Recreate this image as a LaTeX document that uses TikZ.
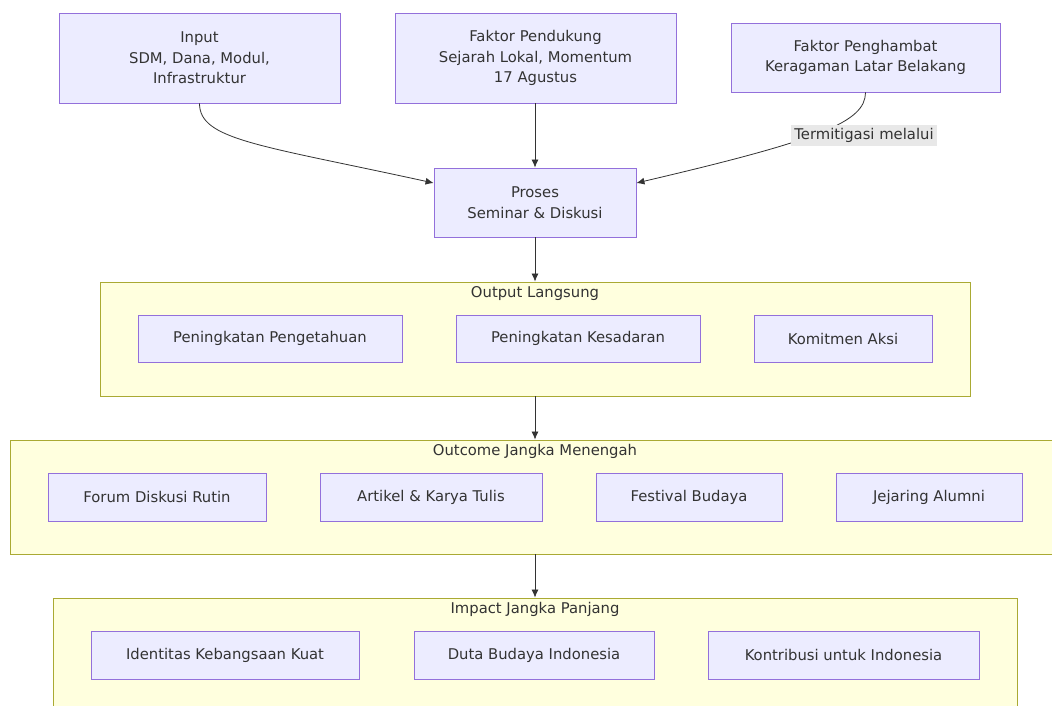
\documentclass[tikz,border=0pt]{standalone}
\usepackage{fontspec}
\setmainfont{DejaVu Sans}
\usepackage{tikz}
\usetikzlibrary{arrows.meta}

\definecolor{boxfill}{RGB}{236,236,255}
\definecolor{boxline}{RGB}{147,112,219}
\definecolor{grpfill}{RGB}{255,255,222}
\definecolor{grpline}{RGB}{170,170,51}
\definecolor{edgecol}{RGB}{51,51,51}
\definecolor{lblfill}{RGB}{232,232,232}

\begin{document}
\begin{tikzpicture}[x=1pt,y=-1pt,
  font=\fontsize{14.8}{20.5}\selectfont,
  box/.style={draw=boxline,fill=boxfill,line width=0.9pt,text=edgecol,align=center,inner sep=0pt},
  grp/.style={draw=grpline,fill=grpfill,line width=0.9pt,inner sep=0pt},
  grptitle/.style={text=edgecol,inner sep=0pt},
  edge/.style={draw=edgecol,line width=0.8pt,-{Latex[length=8pt,width=7pt]}},
  lbl/.style={fill=lblfill,text=edgecol,inner xsep=3pt,inner ysep=3pt}]
\useasboundingbox[fill=white] (0,0) rectangle (1052,706);

% top row
\node[box,minimum width=281,minimum height=90] (input) at (199.5,58) {Input\\SDM, Dana, Modul,\\Infrastruktur};
\node[box,minimum width=281,minimum height=90] (dukung) at (535.5,58) {Faktor Pendukung\\Sejarah Lokal, Momentum\\17 Agustus};
\node[box,minimum width=269,minimum height=69] (hambat) at (865.5,57.5) {Faktor Penghambat\\Keragaman Latar Belakang};
\node[box,minimum width=202,minimum height=69] (proses) at (535,202.5) {Proses\\Seminar \& Diskusi};

% groups
\node[grp,minimum width=870,minimum height=114] (output) at (535,339) {};
\node[grptitle] (outputT) at (535,293.5) {Output Langsung};
\node[box,minimum width=264,minimum height=47] (tahu) at (270,338.5) {Peningkatan Pengetahuan};
\node[box,minimum width=244,minimum height=47] (sadar) at (578,338.5) {Peningkatan Kesadaran};
\node[box,minimum width=178,minimum height=47] (aksi) at (843,338.5) {Komitmen Aksi};

\node[grp,minimum width=1042,minimum height=114] (outcome) at (531,497) {};
\node[grptitle] (outcomeT) at (535,451) {Outcome Jangka Menengah};
\node[box,minimum width=218,minimum height=48] (forum) at (157,497) {Forum Diskusi Rutin};
\node[box,minimum width=222,minimum height=48] (artikel) at (431,497) {Artikel \& Karya Tulis};
\node[box,minimum width=186,minimum height=48] (festival) at (689,497) {Festival Budaya};
\node[box,minimum width=186,minimum height=48] (alumni) at (929,497) {Jejaring Alumni};

\node[grp,minimum width=964,minimum height=114] (impact) at (535,655) {};
\node[grptitle] (impactT) at (535,609) {Impact Jangka Panjang};
\node[box,minimum width=268,minimum height=48] (identitas) at (225,655) {Identitas Kebangsaan Kuat};
\node[box,minimum width=240,minimum height=48] (duta) at (534,655) {Duta Budaya Indonesia};
\node[box,minimum width=271,minimum height=48] (kontribusi) at (843.5,655) {Kontribusi untuk Indonesia};

% edges
\draw[edge] (input.south) .. controls (199.5,140) and (260,145) .. ([yshift=19.5pt]proses.west);
\draw[edge] (proses.north |- dukung.south) -- (proses.north);
\draw[edge] (hambat.south) .. controls (865.5,122) and (820,140) .. ([yshift=19.5pt]proses.east);
\node[lbl] (mitigasi) at (864,135.5) {Termitigasi melalui};
\draw[edge] (proses.south) -- (output.north);
\draw[edge] (output.south) -- (output.south |- outcome.north);
\draw[edge] (output.south |- outcome.south) -- (output.south |- impact.north);

\end{tikzpicture}
\end{document}
